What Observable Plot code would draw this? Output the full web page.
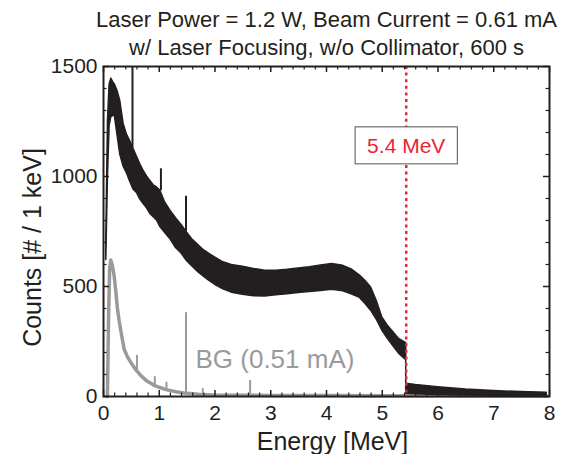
<!DOCTYPE html>
<html><head><meta charset="utf-8">
<script src="https://cdn.jsdelivr.net/npm/d3@7"></script>
<script src="https://cdn.jsdelivr.net/npm/@observablehq/plot@0.6"></script>
<style>body{margin:0;background:#fff} svg{display:block}</style>
</head><body><div id="chart"></div>
<script>
// ---- text ----
const titleLine1 = "Laser Power = 1.2 W, Beam Current = 0.61 mA";
const titleLine2 = "w/ Laser Focusing, w/o Collimator, 600 s";
const xLabel = "Energy [MeV]";
const yLabel = "Counts [# / 1 keV]";
const markerLabel = "5.4 MeV";
const bgLabel = "BG (0.51 mA)";

// ---- ticks ----
const xTicks = [0, 1, 2, 3, 4, 5, 6, 7, 8];
const yTicks = [0, 500, 1000, 1500];
const xMinorStep = 0.2;
const yMinorStep = 100;

// ---- measured spectrum (0.61 mA) : noisy band, lower / upper envelope ----
const sigE  = [0.05,0.08,0.11,0.14,0.17,0.20,0.25,0.30,0.36,0.42,0.48,0.54,0.60,0.66,0.72,0.78,0.84,0.90,0.96,1.02,1.10,1.20,1.30,1.40,1.50,1.60,1.70,1.80,1.90,2.00,2.15,2.30,2.50,2.70,2.90,3.10,3.30,3.50,3.70,3.90,4.10,4.30,4.45,4.60,4.70,4.80,4.90,5.00,5.10,5.20,5.30,5.43,5.43,5.60,6.00,6.50,7.00,7.50,7.95];
const sigHi = [720,1250,1420,1445,1430,1420,1390,1345,1240,1190,1160,1125,1090,1055,1025,1000,980,960,950,935,885,845,810,780,745,712,688,665,648,632,610,598,590,580,572,572,576,582,588,596,602,594,578,550,525,495,435,360,322,292,262,242,58,52,42,32,25,20,17];
const sigLo = [620,1000,1230,1270,1275,1280,1190,1100,1045,1015,975,940,925,895,875,855,830,815,800,770,745,715,675,650,615,590,565,545,525,508,487,472,463,456,455,460,465,470,475,480,485,478,465,448,420,390,350,300,262,228,195,165,12,10,7,5,3,2,1];
// narrow peaks on the measured spectrum
const sigPeakE    = [0.52, 1.03, 1.48];
const sigPeakTop  = [1500, 1035, 910];
const sigPeakBase = [1130, 935, 745];

// ---- background (0.51 mA) ----
const bgE = [0.07,0.09,0.11,0.13,0.16,0.19,0.22,0.25,0.28,0.31,0.37,0.43,0.49,0.57,0.67,0.78,0.90,1.00,1.14,1.30,1.44,1.60,1.74,2.00,2.50,3.00,4.00,5.00,6.00,7.95];
const bgC = [0,350,580,620,595,550,480,400,345,300,215,180,155,125,95,70,52,42,30,22,16,12,9,7,6,5,4,3,3,2];
const bgPeakE    = [0.60, 0.92, 1.13, 1.48, 1.78, 2.63];
const bgPeakTop  = [187, 90, 65, 381, 36, 73];
const bgPeakBase = [115, 50, 32, 15, 9, 6];

// ---- annotation ----
const markerE = 5.43;
const markerLabelCount = 1138;
const bgLabelE = 1.65;
const bgLabelCount = 166;

// ---- colours ----
const black = "#231f20";
const grey = "#9a9a9a";
const red = "#ec2337";

// ---- build tables ----
const sig = sigE.map((e, i) => ({e, lo: sigLo[i], hi: sigHi[i]}));
const sigPeaks = sigPeakE.map((e, i) => ({e, top: sigPeakTop[i], base: sigPeakBase[i]}));
const bg = bgE.map((e, i) => ({e, c: bgC[i]}));
const bgPeaks = bgPeakE.map((e, i) => ({e, top: bgPeakTop[i], base: bgPeakBase[i]}));
const xMinor = d3.range(0, 8 + 1e-9, xMinorStep).filter(v => Math.abs(v - Math.round(v)) > 1e-6);
const yMinor = d3.range(0, 1500 + 1e-9, yMinorStep).filter(v => v % 500 !== 0);

const W = 572, H = 454, mL = 103, mR = 23, mT = 66, mB = 58;
const pw = W - mL - mR, ph = H - mT - mB;
const majLen = 6, minLen = 3.5;

const chart = Plot.plot({
  width: W, height: H,
  marginLeft: mL, marginRight: mR, marginTop: mT, marginBottom: mB,
  x: {domain: [0, 8]},
  y: {domain: [0, 1500]},
  style: {fontFamily: "'Liberation Sans', Arial, sans-serif", color: black, background: "#fff", overflow: "visible"},
  marks: [
    // background spectrum
    Plot.line(bg, {x: "e", y: "c", stroke: grey, strokeWidth: 3.5}),
    Plot.ruleX(bgPeaks, {x: "e", y1: "base", y2: "top", stroke: grey, strokeWidth: 2}),
    // measured spectrum
    Plot.areaY(sig, {x: "e", y1: "lo", y2: "hi", fill: black, stroke: black, strokeWidth: 1.5}),
    Plot.ruleX(sigPeaks, {x: "e", y1: "base", y2: "top", stroke: black, strokeWidth: 2}),
    // endpoint marker
    Plot.ruleX([markerE], {stroke: red, strokeWidth: 2.5, strokeDasharray: "3,3.6"}),
    Plot.text([markerLabel], {x: () => markerE, y: () => markerLabelCount, text: d => d, fill: red, fontSize: 21}),
    Plot.text([bgLabel], {x: () => bgLabelE, y: () => bgLabelCount, text: d => d, fill: grey, fontSize: 26, textAnchor: "start"}),
    // inward ticks on all four sides
    Plot.tickX(xTicks, {x: d => d, insetTop: ph - majLen, stroke: black, strokeWidth: 1.5}),
    Plot.tickX(xTicks, {x: d => d, insetBottom: ph - majLen, stroke: black, strokeWidth: 1.5}),
    Plot.tickX(xMinor, {x: d => d, insetTop: ph - minLen, stroke: black, strokeWidth: 1.2}),
    Plot.tickX(xMinor, {x: d => d, insetBottom: ph - minLen, stroke: black, strokeWidth: 1.2}),
    Plot.tickY(yTicks, {y: d => d, insetRight: pw - majLen, stroke: black, strokeWidth: 1.5}),
    Plot.tickY(yTicks, {y: d => d, insetLeft: pw - majLen, stroke: black, strokeWidth: 1.5}),
    Plot.tickY(yMinor, {y: d => d, insetRight: pw - minLen, stroke: black, strokeWidth: 1.2}),
    Plot.tickY(yMinor, {y: d => d, insetLeft: pw - minLen, stroke: black, strokeWidth: 1.2}),
    Plot.frame({stroke: black, strokeWidth: 2}),
    // tick labels
    Plot.axisX(xTicks, {tickSize: 0, tickPadding: 9, fontSize: 21, label: null, tickFormat: d => String(d)}),
    Plot.axisY(yTicks, {tickSize: 0, tickPadding: 6, fontSize: 21, label: null, tickFormat: d => String(d)}),
    // axis titles
    Plot.text([xLabel], {frameAnchor: "bottom", textAnchor: "middle", lineAnchor: "middle", text: d => d, dy: 45, dx: 6, fontSize: 25, fill: black}),
    Plot.text([yLabel], {frameAnchor: "left", textAnchor: "middle", lineAnchor: "middle", text: d => d, rotate: -90, dx: -71, dy: 16, fontSize: 25, fill: black}),
    // title
    Plot.text([titleLine1], {frameAnchor: "top", textAnchor: "middle", lineAnchor: "middle", text: d => d, dy: -47, fontSize: 22, fill: black}),
    Plot.text([titleLine2], {frameAnchor: "top", textAnchor: "middle", lineAnchor: "middle", text: d => d, dy: -19, fontSize: 22, fill: black})
  ]
});
document.getElementById("chart").append(chart);

// white box with grey border behind the marker label
const lbl = [...chart.querySelectorAll("text")].find(n => n.textContent === markerLabel);
if (lbl) {
  const b = lbl.getBBox();
  const padX = 12, padY = 7;
  const r = document.createElementNS("http://www.w3.org/2000/svg", "rect");
  r.setAttribute("x", b.x - padX);
  r.setAttribute("y", b.y - padY);
  r.setAttribute("width", b.width + 2 * padX);
  r.setAttribute("height", b.height + 2 * padY);
  r.setAttribute("fill", "#fff");
  r.setAttribute("stroke", "#555");
  r.setAttribute("stroke-width", 1);
  const tr = lbl.getAttribute("transform");
  if (tr) r.setAttribute("transform", tr);
  lbl.parentNode.insertBefore(r, lbl);
}
</script>
</body></html>
